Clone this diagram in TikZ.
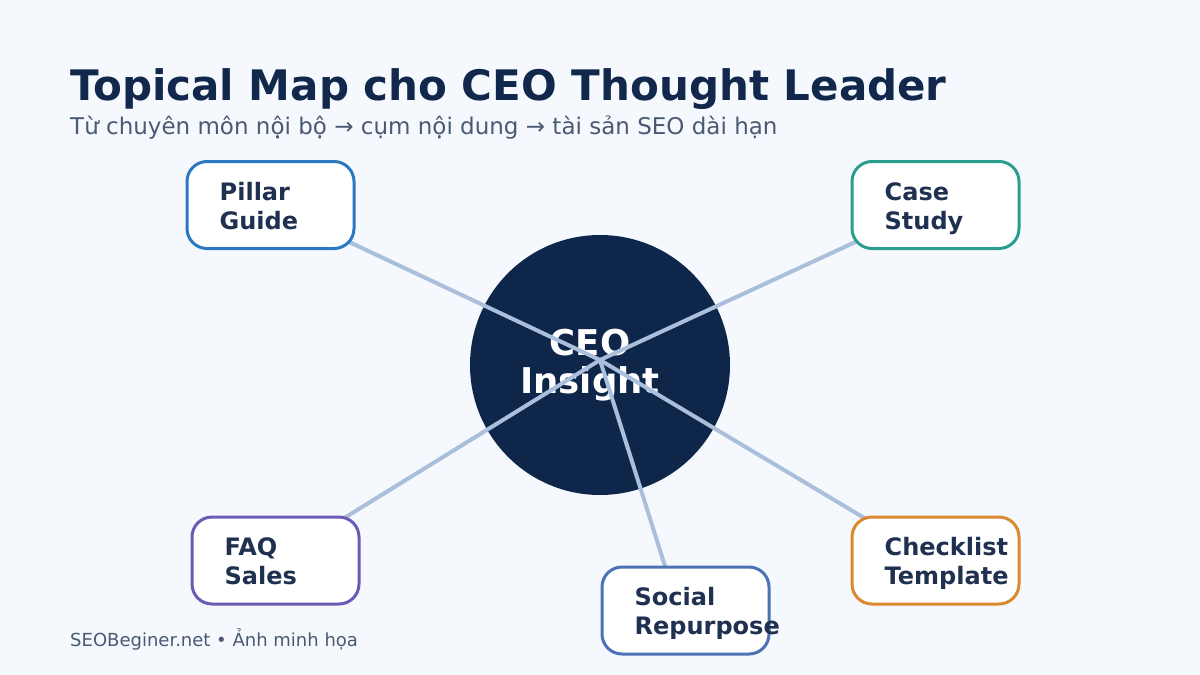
\documentclass[tikz,border=0pt]{standalone}
\usepackage{fontspec}
\setmainfont{DejaVu Sans}
\definecolor{bg}{HTML}{F5F9FD}
\definecolor{navy}{HTML}{0E2649}
\definecolor{titlec}{HTML}{11274B}
\definecolor{subc}{HTML}{4A5A72}
\definecolor{linec}{HTML}{AABFDB}
\definecolor{boxtext}{HTML}{1F3050}
\definecolor{cblue}{HTML}{2A78C2}
\definecolor{cteal}{HTML}{2A9D8F}
\definecolor{cpurple}{HTML}{6B5BB5}
\definecolor{corange}{HTML}{D98A2E}
\definecolor{csocial}{HTML}{4A72B5}
\tikzset{
  topicbox/.style={draw=#1, line width=3pt, fill=white, rounded corners=20pt, minimum width=167pt, minimum height=87pt, inner sep=0pt},
  boxlabel/.style={anchor=base west, inner sep=0pt, text=boxtext, font=\fontsize{24}{28}\selectfont\bfseries},
  spoke/.style={draw=linec, line width=4pt},
}
\begin{document}
\begin{tikzpicture}[x=1pt,y=-1pt]
\useasboundingbox (0,0) rectangle (1200,675);
\fill[bg] (0,0) rectangle (1200,675);
% title
\node[anchor=base west, inner sep=0pt, text=titlec, font=\fontsize{42}{50}\selectfont\bfseries] (title) at (70,100) {Topical Map cho CEO Thought Leader};
\node[anchor=base west, inner sep=0pt, text=subc, font=\fontsize{23}{27}\selectfont] (subtitle) at (70,134) {Từ chuyên môn nội bộ → cụm nội dung → tài sản SEO dài hạn};
% hub
\node[circle, fill=navy, minimum size=260pt, inner sep=0pt] (hubc) at (600,365) {};
\node[anchor=base, inner sep=0pt, text=white, font=\fontsize{35.5}{40}\selectfont\bfseries] (ceo) at (590,355) {CEO};
\node[anchor=base, inner sep=0pt, text=white, font=\fontsize{35.5}{40}\selectfont\bfseries] (insight) at (590,393) {Insight};
\coordinate (hub) at (600,360);
% box positions
\coordinate (pc) at (270.5,205);
\coordinate (cc) at (935.5,205);
\coordinate (fc) at (275.5,560.5);
\coordinate (kc) at (935.5,560.5);
\coordinate (sc) at (685.5,610.5);
\coordinate (sanchor) at (679,610.5);
% spokes
\draw[spoke] (pc) -- (hub);
\draw[spoke] (cc) -- (hub);
\draw[spoke] (fc) -- (hub);
\draw[spoke] (kc) -- (hub);
\draw[spoke] (sanchor) -- (hub);
% boxes
\node[topicbox=cblue] (pillar) at (pc) {};
\node[topicbox=cteal] (case) at (cc) {};
\node[topicbox=cpurple] (faq) at (fc) {};
\node[topicbox=corange] (check) at (kc) {};
\node[topicbox=csocial] (social) at (sc) {};
% box labels
\node[boxlabel] (p1) at ([xshift=34pt,yshift=-40pt]pillar.north west) {Pillar};
\node[boxlabel] (p2) at ([xshift=34pt,yshift=-69pt]pillar.north west) {Guide};
\node[boxlabel] (c1) at ([xshift=34pt,yshift=-40pt]case.north west) {Case};
\node[boxlabel] (c2) at ([xshift=34pt,yshift=-69pt]case.north west) {Study};
\node[boxlabel] (f1) at ([xshift=34pt,yshift=-40pt]faq.north west) {FAQ};
\node[boxlabel] (f2) at ([xshift=34pt,yshift=-69pt]faq.north west) {Sales};
\node[boxlabel] (k1) at ([xshift=34pt,yshift=-40pt]check.north west) {Checklist};
\node[boxlabel] (k2) at ([xshift=34pt,yshift=-69pt]check.north west) {Template};
\node[boxlabel] (s1) at ([xshift=34pt,yshift=-40pt]social.north west) {Social};
\node[boxlabel] (s2) at ([xshift=34pt,yshift=-69pt]social.north west) {Repurpose};
% footer
\node[anchor=base west, inner sep=0pt, text=subc, font=\fontsize{18}{21}\selectfont] (footer) at (70,646) {SEOBeginer.net • Ảnh minh họa};
\end{tikzpicture}
\end{document}
